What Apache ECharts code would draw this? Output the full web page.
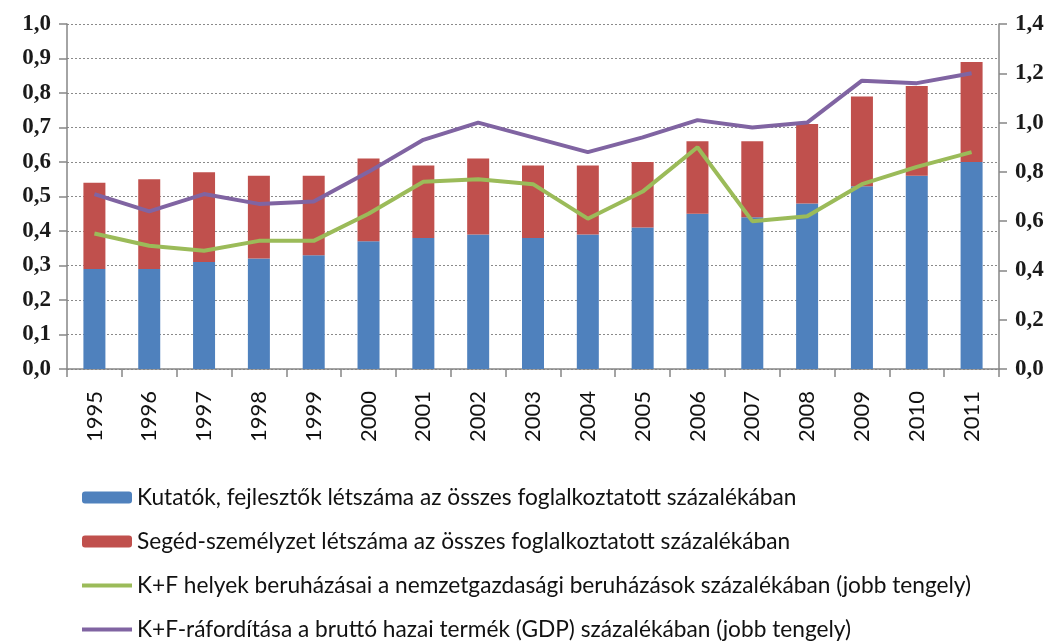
<!DOCTYPE html>
<html>
<head>
<meta charset="utf-8">
<script src="https://cdn.jsdelivr.net/npm/echarts@6/dist/echarts.min.js"></script>
<style>html,body{margin:0;padding:0;background:#fff}#c{width:1057px;height:641px}</style>
</head>
<body>
<div id="c"></div>
<script>
const years = ['1995','1996','1997','1998','1999','2000','2001','2002','2003','2004','2005','2006','2007','2008','2009','2010','2011'];
const kutatok = [0.29,0.29,0.31,0.32,0.33,0.37,0.38,0.39,0.38,0.39,0.41,0.45,0.44,0.48,0.53,0.56,0.60];
const seged = [0.25,0.26,0.26,0.24,0.23,0.24,0.21,0.22,0.21,0.20,0.19,0.21,0.22,0.23,0.26,0.26,0.29];
const beruhazas = [0.55,0.50,0.48,0.52,0.52,0.63,0.76,0.77,0.75,0.61,0.72,0.90,0.60,0.62,0.75,0.82,0.88];
const gdp = [0.71,0.64,0.71,0.67,0.68,0.80,0.93,1.00,0.94,0.88,0.94,1.01,0.98,1.00,1.17,1.16,1.20];
const names = [
  'Kutatók, fejlesztők létszáma az összes foglalkoztatott százalékában',
  'Segéd-személyzet létszáma az összes foglalkoztatott százalékában',
  'K+F helyek beruházásai a nemzetgazdasági beruházások százalékában (jobb tengely)',
  'K+F-ráfordítása a bruttó hazai termék (GDP) százalékában (jobb tengely)'
];
const fmt = v => v.toFixed(1).replace('.', ',');
const axisCol = '#868686';
const yLabel = {fontFamily: 'Liberation Serif', fontWeight: 'bold', fontSize: 23, color: '#1a1a1a', margin: 16, formatter: fmt};
const chart = echarts.init(document.getElementById('c'), null, {renderer: 'canvas'});
chart.setOption({
  animation: false,
  backgroundColor: '#fff',
  grid: {left: 67, right: 58, top: 24, bottom: 272, containLabel: false},
  legend: {
    orient: 'vertical', left: 75, top: 481, height: 200,
    itemWidth: 50, itemHeight: 12, itemGap: 21,
    textStyle: {fontFamily: 'Lato', fontSize: 22.7, color: '#111'},
    data: [
      {name: names[0]},
      {name: names[1]},
      {name: names[2], itemStyle: {opacity: 0}, lineStyle: {width: 4, color: '#9BBB59'}},
      {name: names[3], itemStyle: {opacity: 0}, lineStyle: {width: 4, color: '#8064A2'}}
    ]
  },
  xAxis: {
    type: 'category', data: years, boundaryGap: true,
    axisLine: {lineStyle: {color: axisCol, width: 1.5}},
    axisTick: {show: true, length: 8, lineStyle: {color: axisCol, width: 1.5}},
    axisLabel: {rotate: 90, interval: 0, margin: 22, fontFamily: 'Lato', fontSize: 22, color: '#111'}
  },
  yAxis: [
    {type: 'value', min: 0, max: 1, interval: 0.1,
     axisLine: {show: true, lineStyle: {color: axisCol, width: 1.5}},
     axisTick: {show: true, length: 8, lineStyle: {color: axisCol, width: 1.5}},
     splitLine: {show: true, lineStyle: {color: '#8a8a8a', type: [2, 2], width: 1}},
     axisLabel: yLabel},
    {type: 'value', min: 0, max: 1.4, interval: 0.2, position: 'right',
     axisLine: {show: true, lineStyle: {color: axisCol, width: 1.5}},
     axisTick: {show: true, length: 8, lineStyle: {color: axisCol, width: 1.5}},
     splitLine: {show: false},
     axisLabel: yLabel}
  ],
  series: [
    {name: names[0], type: 'bar', stack: 's', data: kutatok, barWidth: 22, itemStyle: {color: '#4F81BD'}},
    {name: names[1], type: 'bar', stack: 's', data: seged, barWidth: 22, itemStyle: {color: '#C0504D'}},
    {name: names[2], type: 'line', yAxisIndex: 1, data: beruhazas, symbol: 'none', lineStyle: {color: '#9BBB59', width: 4}, itemStyle: {color: '#9BBB59'}},
    {name: names[3], type: 'line', yAxisIndex: 1, data: gdp, symbol: 'none', lineStyle: {color: '#8064A2', width: 4}, itemStyle: {color: '#8064A2'}}
  ]
});
</script>
</body>
</html>
